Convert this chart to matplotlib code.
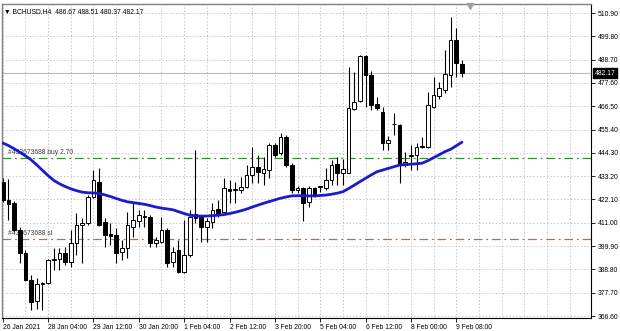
import numpy as np
import matplotlib
matplotlib.use("Agg")
import matplotlib.pyplot as plt
from matplotlib.transforms import blended_transform_factory

# H4 candles, BCHUSD
opens = [430.56, 421.84, 420.56, 407.55, 396.74, 383.74, 373.74, 381.84, 382.17, 393.27,
         393.60, 396.46, 392.46, 401.22, 409.94, 410.75, 423.42, 430.56, 411.51, 405.65,
         405.17, 397.22, 398.84, 409.13, 411.98, 414.37, 413.89, 401.22, 401.98, 407.55,
         392.46, 398.03, 387.70, 395.65, 415.17, 413.60, 409.13, 411.51, 417.41, 416.27,
         427.08, 426.60, 426.60, 428.18, 433.75, 437.70, 434.84, 436.13, 448.04, 444.08,
         451.99, 438.51, 426.60, 427.41, 421.03, 427.41, 428.00, 427.41, 431.37, 438.99,
         434.56, 434.84, 465.04, 469.13, 490.42, 481.37, 467.42, 463.89, 448.84, 457.89,
         457.56, 438.51, 442.94, 443.27, 446.94, 447.23, 466.28, 471.37, 474.23, 481.37,
         498.04, 486.67]
highs = [432.32, 431.84, 421.37, 409.13, 398.03, 386.12, 384.70, 382.93, 393.60, 398.84,
         398.84, 399.60, 407.55, 415.51, 413.27, 424.22, 436.13, 436.94, 413.13, 410.89,
         408.51, 402.79, 416.27, 420.27, 417.08, 417.08, 414.70, 404.36, 413.89, 408.36,
         399.60, 402.79, 412.32, 417.08, 445.65, 414.70, 413.13, 420.27, 421.84, 432.18,
         431.37, 430.41, 432.94, 438.51, 447.23, 443.27, 442.46, 448.84, 448.84, 453.89,
         452.80, 439.32, 428.51, 427.89, 428.51, 428.03, 428.51, 436.94, 440.89, 442.46,
         441.22, 485.04, 482.94, 490.90, 490.90, 483.42, 470.75, 466.28, 452.32, 463.13,
         457.90, 444.70, 448.04, 448.84, 451.99, 473.42, 480.56, 478.18, 493.28, 509.14,
         503.99, 488.51]
lows = [420.89, 412.32, 406.60, 391.69, 383.27, 369.46, 369.93, 369.46, 381.84, 388.51,
        388.51, 390.89, 390.08, 395.65, 391.84, 409.94, 422.65, 409.46, 399.60, 400.41,
        391.69, 393.27, 394.08, 404.36, 409.13, 409.13, 399.60, 399.60, 401.22, 390.08,
        390.08, 386.93, 386.93, 394.84, 410.75, 401.98, 401.98, 408.36, 413.89, 415.51,
        420.27, 420.41, 425.03, 427.41, 429.80, 429.80, 428.99, 432.18, 442.46, 443.27,
        437.70, 425.03, 425.03, 411.98, 418.65, 423.27, 425.80, 426.60, 428.99, 428.99,
        428.99, 434.56, 464.70, 468.66, 466.28, 464.70, 464.70, 445.65, 445.65, 452.80,
        429.80, 437.70, 436.13, 436.13, 446.46, 446.46, 465.51, 469.94, 472.66, 475.80,
        480.56, 480.37]
closes = [421.84, 419.94, 407.55, 396.46, 383.74, 373.41, 381.84, 382.31, 393.27, 393.89,
          396.74, 392.46, 401.22, 409.94, 410.89, 423.42, 431.37, 409.94, 405.17, 404.70,
          396.74, 398.84, 409.94, 412.32, 414.70, 413.89, 401.22, 402.79, 407.55, 391.69,
          397.22, 387.70, 395.65, 413.89, 413.13, 409.13, 411.84, 417.08, 415.79, 427.41,
          426.13, 427.08, 428.18, 433.75, 437.70, 435.32, 436.46, 448.04, 443.27, 451.99,
          438.51, 426.60, 427.41, 420.27, 427.56, 424.22, 428.30, 431.37, 438.51, 434.56,
          436.46, 465.51, 468.66, 490.42, 481.37, 467.08, 465.51, 449.13, 450.42, 458.10,
          438.51, 440.08, 443.10, 447.23, 447.56, 467.08, 471.85, 475.04, 481.85, 498.04,
          486.90, 482.17]
ma = [449.0, 447.8, 446.3, 444.6, 442.9, 441.0, 438.6, 436.0, 433.5, 431.2,
      429.6, 428.3, 427.2, 426.3, 425.6, 425.3, 425.2, 425.0, 424.3, 423.5,
      422.6, 421.7, 421.0, 420.6, 420.2, 419.8, 419.2, 418.5, 418.0, 417.6,
      417.2, 416.3, 415.4, 414.6, 414.3, 414.2, 414.2, 414.4, 414.6, 414.9,
      415.4, 416.0, 416.7, 417.5, 418.5, 419.4, 420.3, 421.1, 421.9, 422.7,
      423.3, 423.8, 423.9, 423.9, 423.8, 423.8, 424.0, 424.2, 424.6, 425.1,
      425.8, 427.3, 428.9, 430.6, 432.2, 433.8, 435.3, 436.1, 436.9, 437.7,
      438.5, 438.7, 438.9, 439.1, 439.4, 440.6, 442.0, 443.4, 444.9, 446.0,
      447.7, 449.4]

price_ticks = [366.60, 377.70, 388.80, 399.90, 411.00, 422.10, 433.20,
               444.30, 455.40, 466.50, 477.60, 488.70, 499.80, 510.90]
time_pos = [0, 8, 16, 24, 32, 40, 48, 56, 64, 72, 80]
time_labels = ["26 Jan 2021", "28 Jan 04:00", "29 Jan 12:00", "30 Jan 20:00",
               "1 Feb 04:00", "2 Feb 12:00", "3 Feb 20:00", "5 Feb 04:00",
               "6 Feb 12:00", "8 Feb 00:00", "9 Feb 08:00"]
buy_level = 441.7
sl_level = 403.1
last_price = 482.17

plt.rcParams['font.family'] = ['Liberation Sans', 'DejaVu Sans']
fs = 4.9
fig = plt.figure(figsize=(6.2, 3.31), dpi=100)
ax = fig.add_axes([2/620, 13/331, 589/620, 314/331])
ax.set_xlim(-0.12, 103.75)
ax.set_ylim(365.65, 515.19)

# grid
for p in price_ticks:
    ax.axhline(p, color='#c8c8c8', lw=0.7, ls=(0, (1.5, 2)), zorder=0)
for i in range(0, 104, 4):
    ax.axvline(i, color='#c8c8c8', lw=0.7, ls=(0, (1.5, 2)), zorder=0)

# order lines
ax.axhline(buy_level, color='#3a8a3a', lw=0.9, ls=(0, (7, 3, 1.5, 3)), zorder=1)
ax.axhline(sl_level, color='#d2691e', lw=0.9, ls=(0, (7, 3, 1.5, 3)), zorder=1)
ax.axhline(last_price, color='#b8b8b8', lw=0.8, zorder=1)
ax.text(1.0, buy_level + 1.0, "#433673688 buy 2.70", fontsize=fs, color='#404040', va='bottom')
ax.text(1.0, sl_level + 1.0, "#433673688 sl", fontsize=fs, color='#404040', va='bottom')

# candles
x = np.arange(len(opens))
o = np.array(opens); h = np.array(highs); l = np.array(lows); c = np.array(closes)
ax.vlines(x, l, h, color='black', lw=0.8, zorder=2)
up = c >= o
bot = np.minimum(o, c)
hgt = np.maximum(np.abs(c - o), 0.15)
ax.bar(x[up], hgt[up], bottom=bot[up], width=0.65, color='white', edgecolor='black', lw=0.7, zorder=3)
ax.bar(x[~up], hgt[~up], bottom=bot[~up], width=0.65, color='black', edgecolor='black', lw=0.7, zorder=3)

# moving average
ax.plot(x, ma, color='#1a1ad0', lw=2.0, zorder=4, solid_capstyle='round')

# axes styling
for s in ['top', 'left']:
    ax.spines[s].set_color('#808080')
    ax.spines[s].set_linewidth(1.0)
for s in ['right', 'bottom']:
    ax.spines[s].set_color('black')
    ax.spines[s].set_linewidth(0.8)
ax.yaxis.tick_right()
ax.set_yticks(price_ticks)
ax.set_yticklabels(["%.2f" % p for p in price_ticks])
ax.tick_params(axis='y', direction='out', length=3, width=0.6, labelsize=fs, pad=2, colors='black')
ax.set_xticks(time_pos)
ax.set_xticklabels(time_labels, ha='left')
ax.tick_params(axis='x', direction='out', length=3, width=0.6, labelsize=fs, pad=1.5)

# current price box
tr = blended_transform_factory(ax.transAxes, ax.transData)
ax.text(1.006, last_price, "482.17", transform=tr, fontsize=fs, color='white', va='center', ha='left',
        bbox=dict(boxstyle='square,pad=0.2', fc='black', ec='black'))

# title
ax.text(0.004, 0.988, "\u25bc BCHUSD,H4  486.67 488.51 480.37 482.17", transform=ax.transAxes,
        fontsize=fs, color='black', va='top', ha='left')
# chart shift marker
ax.plot([82.4], [514.3], marker='v', color='#a0a0a0', markersize=4, clip_on=False, zorder=5)

fig.savefig("out.png", dpi=100, facecolor='white')
